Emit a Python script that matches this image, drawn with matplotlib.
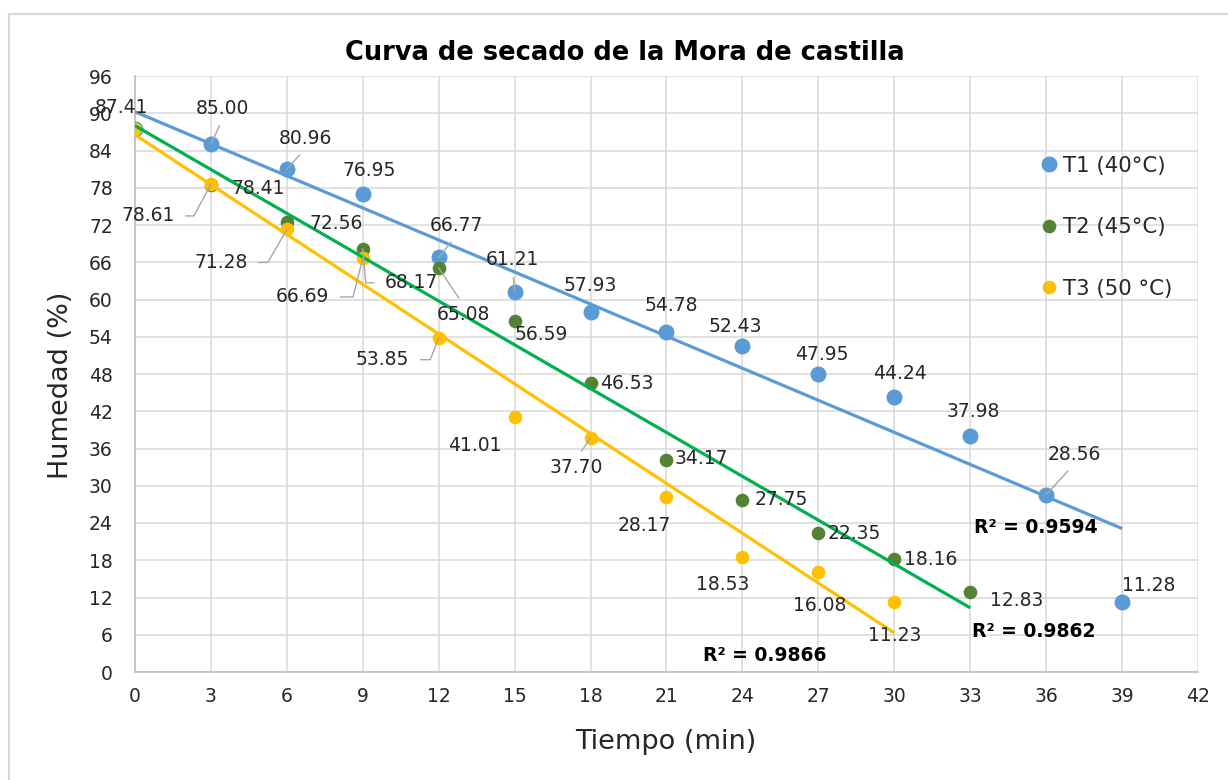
import numpy as np
import matplotlib
matplotlib.use("Agg")
import matplotlib.pyplot as plt
from matplotlib.lines import Line2D

# ---- data ----
tiempo = [0, 3, 6, 9, 12, 15, 18, 21, 24, 27, 30, 33, 36, 39]
t1 = [87.41, 85.00, 80.96, 76.95, 66.77, 61.21, 57.93, 54.78, 52.43, 47.95, 44.24, 37.98, 28.56, 11.28]
t2 = [87.41, 78.41, 72.56, 68.17, 65.08, 56.59, 46.53, 34.17, 27.75, 22.35, 18.16, 12.83]
t3 = [87.41, 78.61, 71.28, 66.69, 53.85, 41.01, 37.70, 28.17, 18.53, 16.08, 11.23]
names = ["T1 (40°C)", "T2 (45°C)", "T3 (50 °C)"]
r2_labels = ["R² = 0.9594", "R² = 0.9862", "R² = 0.9866"]
x_ticks = list(range(0, 43, 3))
y_ticks = list(range(0, 97, 6))

# ---- styling ----
marker_colors = ["#5B9BD5", "#548235", "#FFC000"]
line_colors = ["#5B9BD5", "#00B050", "#FFC000"]
marker_sizes = [10.5, 8.8, 8.8]
r2_pos = [(35.6, 23.2), (35.5, 6.6), (24.9, 2.7)]
LEAD = "#a6a6a6"
TXT = "#262626"
PX = 0.72  # pixels -> points at 100 dpi

# label offsets in pixels (dx, dy up), leader: None, ("line", relpos) or ("elbow", relpos, angle)
up = ("line", (0.5, 0))
down = ("line", (0.5, 1))
lbl1 = [(-14, 22, None), (12, 36, up), (19, 31, up), (6, 24, None), (18, 32, up),
        (-2, 32, up), (0, 27, None), (5, 26, None), (-7, 20, None), (3, 20, None),
        (6, 24, None), (3, 25, None), (28, 40, up), (27, 16, None)]
lbl2 = [None, (47, -3, None), (49, -2, None), (49, -34, ("elbow", (0, 0.5), 95)),
        (25, -47, down), (27, -14, None), (36, 0, None), (35, 1, None), (39, 0, None),
        (36, 0, None), (36, 0, None), (46, -8, None)]
lbl3 = [None, (-63, -32, ("elbow", (1, 0.5), 62)), (-66, -33, ("elbow", (1, 0.5), 60)),
        (-60, -39, ("elbow", (1, 0.5), 76)), (-56, -22, ("elbow", (1, 0.5), 69)),
        (-40, -28, None), (-14, -30, down), (-22, -28, None), (-20, -28, None),
        (1, -33, None), (0, -33, None)]

fig = plt.figure(figsize=(12.28, 7.80), dpi=100)
ax = fig.add_axes([135 / 1228, 108 / 780, 1063 / 1228, 596 / 780])

ax.set_xlim(0, 42)
ax.set_ylim(0, 96)
ax.set_xticks(x_ticks)
ax.set_yticks(y_ticks)
ax.grid(True, color="#d9d9d9", lw=1.1, zorder=0)
ax.set_axisbelow(True)
for s in ["top", "right"]:
    ax.spines[s].set_visible(False)
for s in ["left", "bottom"]:
    ax.spines[s].set_color("#bfbfbf")
    ax.spines[s].set_linewidth(1.2)
ax.tick_params(axis="both", length=0, labelsize=13.5, labelcolor=TXT)
ax.tick_params(axis="y", pad=16)
ax.tick_params(axis="x", pad=11)

series = [t1, t2, t3]
labels = [lbl1, lbl2, lbl3]
handles = []
for k, ys in enumerate(series):
    xs = tiempo[:len(ys)]
    h, = ax.plot(xs, ys, "o", ms=marker_sizes[k], color=marker_colors[k],
                 ls="none", zorder=3 + k * 0.1, label=names[k])
    handles.append(h)
    # linear trendline
    m, b = np.polyfit(xs, ys, 1)
    xl = np.array([xs[0], xs[-1]])
    ax.plot(xl, m * xl + b, color=line_colors[k], lw=2.3, zorder=4,
            solid_capstyle="butt")
    ax.text(*r2_pos[k], r2_labels[k], ha="center", va="center",
            fontsize=13.5, fontweight="bold", color="black", zorder=6)
    for x, y, spec in zip(xs, ys, labels[k]):
        if spec is None:
            continue
        dx, dy, lead = spec
        arrow = None
        if lead is not None and lead[0] == "line":
            arrow = dict(arrowstyle="-", color=LEAD, lw=1.0, shrinkA=4,
                         shrinkB=0, relpos=lead[1])
        elif lead is not None:
            arrow = dict(arrowstyle="-", color=LEAD, lw=1.0, shrinkA=6,
                         shrinkB=0, relpos=lead[1],
                         connectionstyle=f"angle,angleA=0,angleB={lead[2]},rad=0")
        ax.annotate(f"{y:.2f}", (x, y), xytext=(dx * PX, dy * PX),
                    textcoords="offset points", ha="center", va="center",
                    fontsize=13.5, color=TXT, zorder=5, arrowprops=arrow)

ax.legend(handles=handles, loc="upper left", bbox_to_anchor=(0.852, 0.866),
          frameon=False, fontsize=15.3, labelspacing=1.95, handlelength=0.8,
          handletextpad=0.25, borderpad=0, borderaxespad=0, labelcolor=TXT)

fig.text(625 / 1228, 1 - 53 / 780, "Curva de secado de la Mora de castilla",
         ha="center", va="center", fontsize=18.5, fontweight="bold")
fig.text(61 / 1228, 1 - 385 / 780, "Humedad (%)", rotation=90,
         ha="center", va="center", fontsize=19.5, color=TXT)
fig.text(666 / 1228, 1 - 742 / 780, "Tiempo (min)",
         ha="center", va="center", fontsize=19.5, color=TXT)

# chart-area border (left and top edges visible in the reference)
fig.add_artist(Line2D([9 / 1228, 9 / 1228], [0, 1 - 14 / 780],
                      transform=fig.transFigure, color="#d9d9d9", lw=1.5))
fig.add_artist(Line2D([9 / 1228, 1], [1 - 14 / 780, 1 - 14 / 780],
                      transform=fig.transFigure, color="#d9d9d9", lw=1.5))

fig.savefig("out.png", dpi=100)
